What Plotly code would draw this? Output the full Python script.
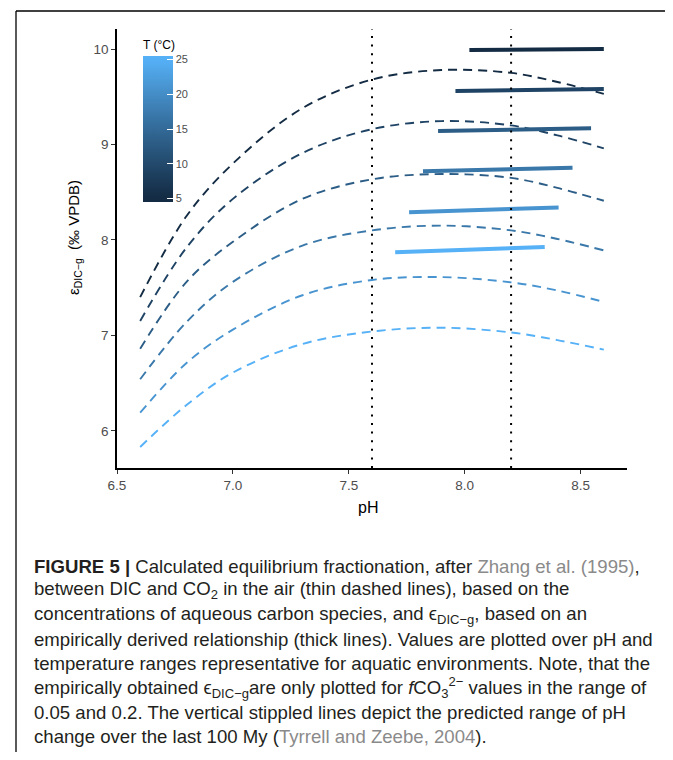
import plotly.graph_objects as go
import numpy as np

# ---------------- data ----------------
temps = [5, 9, 13, 17, 21, 25]
ph_dash = [6.6, 6.8, 7.0, 7.3, 7.6, 7.9, 8.2, 8.4, 8.6]
eps_dash = {
    5:  [7.40, 8.25, 8.80, 9.38, 9.68, 9.78, 9.75, 9.655, 9.53],
    9:  [7.15, 7.92, 8.43, 8.91, 9.16, 9.245, 9.20, 9.095, 8.96],
    13: [6.86, 7.56, 7.98, 8.43, 8.635, 8.69, 8.65, 8.545, 8.41],
    17: [6.54, 7.14, 7.56, 7.94, 8.10, 8.15, 8.10, 8.01, 7.89],
    21: [6.19, 6.71, 7.06, 7.42, 7.58, 7.61, 7.555, 7.47, 7.35],
    25: [5.83, 6.27, 6.61, 6.91, 7.04, 7.08, 7.03, 6.95, 6.85],
}
ph_thick = {
    5:  [8.02, 8.60],
    9:  [7.96, 8.60],
    13: [7.885, 8.545],
    17: [7.82, 8.465],
    21: [7.76, 8.405],
    25: [7.70, 8.345],
}
eps_thick = {
    5:  [9.99, 10.00],
    9:  [9.56, 9.58],
    13: [9.14, 9.17],
    17: [8.72, 8.755],
    21: [8.29, 8.34],
    25: [7.87, 7.925],
}
ph_stipple = [7.6, 8.2]
x_ticks = [6.5, 7.0, 7.5, 8.0, 8.5]
y_ticks = [6, 7, 8, 9, 10]
cbar_ticks = [5, 10, 15, 20, 25]

# ---------------- colour (ggplot default gradient, Lab interpolation) ----------------
LOW, HIGH = "#132B43", "#56B1F7"
WP = (0.95047, 1.0, 1.08883)

def _hex2rgb(h):
    h = h.lstrip("#")
    return [int(h[i:i + 2], 16) / 255 for i in (0, 2, 4)]

def _lin(c):
    return c / 12.92 if c <= 0.04045 else ((c + 0.055) / 1.055) ** 2.4

def _unlin(c):
    return 12.92 * c if c <= 0.0031308 else 1.055 * c ** (1 / 2.4) - 0.055

def _rgb2lab(rgb):
    r, g, b = [_lin(c) for c in rgb]
    X = 0.4124 * r + 0.3576 * g + 0.1805 * b
    Y = 0.2126 * r + 0.7152 * g + 0.0722 * b
    Z = 0.0193 * r + 0.1192 * g + 0.9505 * b
    def f(t):
        return t ** (1 / 3) if t > (6 / 29) ** 3 else t / (3 * (6 / 29) ** 2) + 4 / 29
    fx, fy, fz = f(X / WP[0]), f(Y / WP[1]), f(Z / WP[2])
    return [116 * fy - 16, 500 * (fx - fy), 200 * (fy - fz)]

def _lab2rgb(lab):
    L_, a, b = lab
    fy = (L_ + 16) / 116
    fx = fy + a / 500
    fz = fy - b / 200
    def finv(t):
        return t ** 3 if t > 6 / 29 else 3 * (6 / 29) ** 2 * (t - 4 / 29)
    X, Y, Z = WP[0] * finv(fx), WP[1] * finv(fy), WP[2] * finv(fz)
    r = 3.2406 * X - 1.5372 * Y - 0.4986 * Z
    g = -0.9689 * X + 1.8758 * Y + 0.0415 * Z
    bb = 0.0557 * X - 0.2040 * Y + 1.0570 * Z
    out = [min(1, max(0, _unlin(min(1, max(0, c))))) for c in (r, g, bb)]
    return "rgb(%d,%d,%d)" % tuple(round(c * 255) for c in out)

LAB_LO, LAB_HI = _rgb2lab(_hex2rgb(LOW)), _rgb2lab(_hex2rgb(HIGH))

def tcol(T):
    t = min(1, max(0, (T - 5) / 20))
    return _lab2rgb([LAB_LO[i] + t * (LAB_HI[i] - LAB_LO[i]) for i in range(3)])

CMIN, CMAX = 4.5, 25.5
colorscale = [[p, tcol(CMIN + p * (CMAX - CMIN))] for p in np.linspace(0, 1, 21)]

# ---------------- layout geometry ----------------
# page body has an 8px margin; figure is sized so no scrollbars appear
OFF = 8
W, H = 673 - 2 * OFF, 760 - 2 * OFF
PL, PT, PW, PH = 117, 29, 510, 439          # plot area in page pixels
L, T = PL - OFF, PT - OFF
R, B = W - L - PW, H - T - PH

def px(x):   # page pixel -> paper x
    return (x - PL) / PW

def py(y):   # page pixel -> paper y
    return (PT + PH - y) / PH

fig = go.Figure()

for Tc in temps:
    fig.add_trace(go.Scatter(
        x=ph_dash, y=eps_dash[Tc], mode="lines",
        line=dict(color=tcol(Tc), width=1.9, dash="9px,6px", shape="spline", smoothing=1.0),
        showlegend=False, hoverinfo="skip"))

for Tc in temps:
    fig.add_trace(go.Scatter(
        x=ph_thick[Tc], y=eps_thick[Tc], mode="lines",
        line=dict(color=tcol(Tc), width=4),
        showlegend=False, hoverinfo="skip"))

# colourbar geometry (page px): bar from y=57 to 202, x=143..173, title above
CB_TOP, CB_BOT, CB_X, CB_W, TITLE_H = 57, 202, 143, 30, 20
fig.add_trace(go.Scatter(
    x=[None], y=[None], mode="markers",
    marker=dict(color=[CMIN, CMAX], cmin=CMIN, cmax=CMAX, colorscale=colorscale,
                showscale=True,
                colorbar=dict(
                    x=px(CB_X), xanchor="left", xpad=0,
                    y=py((CB_TOP - TITLE_H + CB_BOT) / 2), yanchor="middle", ypad=0,
                    thickness=CB_W, thicknessmode="pixels",
                    len=CB_BOT - CB_TOP + TITLE_H, lenmode="pixels",
                    outlinewidth=0,
                    tickvals=cbar_ticks, ticks="inside", ticklen=6,
                    tickcolor="white", tickwidth=1,
                    tickfont=dict(family="Liberation Sans", size=11, color="#4D4D4D"),
                    title=dict(text="T (°C)", side="top",
                               font=dict(family="Liberation Sans", size=12, color="black")))),
    showlegend=False, hoverinfo="skip"))

shapes = []
for v in ph_stipple:
    shapes.append(dict(type="line", xref="x", yref="paper", x0=v, x1=v, y0=0, y1=1,
                       line=dict(color="black", width=2, dash="2px,6.6px")))
# white tick marks on the left edge of the colourbar
for v in cbar_ticks:
    yy = CB_BOT - (v - CMIN) / (CMAX - CMIN) * (CB_BOT - CB_TOP)
    shapes.append(dict(type="line", xref="paper", yref="paper", x0=px(CB_X), x1=px(CB_X + 6),
                       y0=py(yy), y1=py(yy), line=dict(color="white", width=1), layer="above"))
# figure frame
shapes.append(dict(type="line", xref="paper", yref="paper", x0=px(16), x1=px(665),
                   y0=py(11), y1=py(11), line=dict(color="black", width=1.3)))
shapes.append(dict(type="line", xref="paper", yref="paper", x0=px(16), x1=px(16),
                   y0=py(11), y1=py(752), line=dict(color="black", width=1.3)))

annotations = [
    dict(text="pH", xref="paper", yref="paper", x=px(368), y=py(508),
         xanchor="center", yanchor="middle",
         showarrow=False, font=dict(family="Liberation Sans", size=16, color="black")),
    dict(text="ε<sub>DIC−g</sub>  (‰ VPDB)", xref="paper", yref="paper", x=px(74), y=py(238),
         xanchor="center", yanchor="middle",
         showarrow=False, textangle=-90,
         font=dict(family="Liberation Sans", size=15, color="black")),
]

GREY = "#8a8a8a"
cap_lines = [
    "<b>FIGURE 5 |</b> Calculated equilibrium fractionation, after "
    "<span style='color:%s'>Zhang et al. (1995)</span>," % GREY,
    "between DIC and CO<sub>2</sub> in the air (thin dashed lines), based on the",
    "concentrations of aqueous carbon species, and ϵ<sub>DIC−g</sub>, based on an",
    "empirically derived relationship (thick lines). Values are plotted over pH and",
    "temperature ranges representative for aquatic environments. Note, that the",
    "empirically obtained ϵ<sub>DIC−g</sub>are only plotted for <i>f</i>CO<sub>3</sub><sup>2−</sup> values in the range of",
    "0.05 and 0.2. The vertical stippled lines depict the predicted range of pH",
    "change over the last 100 My (<span style='color:%s'>Tyrrell and Zeebe, 2004</span>)." % GREY,
]
cap_y0, cap_dy = 566, 24.35
for i, t in enumerate(cap_lines):
    annotations.append(dict(text=t, xref="paper", yref="paper", x=px(32), y=py(cap_y0 + i * cap_dy),
                            xanchor="left", yanchor="middle", showarrow=False,
                            font=dict(family="Liberation Sans", size=18.6, color="#231f20")))

axis_common = dict(showline=True, linecolor="black", linewidth=1.6, ticks="outside",
                   ticklen=4, tickwidth=1.2, tickcolor="#333333", showgrid=False, zeroline=False,
                   tickfont=dict(family="Liberation Sans", size=13.5, color="#4D4D4D"))

fig.update_layout(
    width=W, height=H,
    margin=dict(l=L, r=R, t=T, b=B, pad=0),
    paper_bgcolor="white", plot_bgcolor="white",
    xaxis=dict(range=[6.5, 8.7], tickvals=x_ticks, ticktext=["%.1f" % v for v in x_ticks], **axis_common),
    yaxis=dict(range=[5.61, 10.21], tickvals=y_ticks, **axis_common),
    shapes=shapes, annotations=annotations, showlegend=False,
)

fig.write_html("out.html")
